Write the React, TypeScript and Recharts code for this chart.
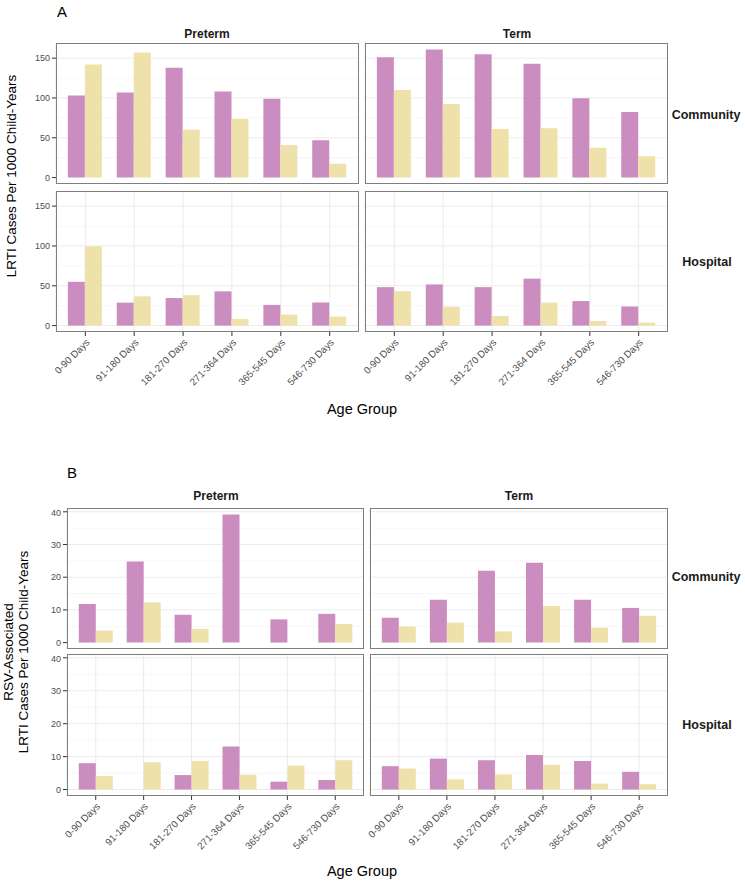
import React from "react";
import { BarChart, Bar, XAxis, YAxis, CartesianGrid } from "recharts";

const ageGroups = ["0-90 Days", "91-180 Days", "181-270 Days", "271-364 Days", "365-545 Days", "546-730 Days"];

// Panel A: all LRTI
const aCommunityPreterm1 = [103, 107, 138, 108, 99, 47];
const aCommunityPreterm2 = [142, 157, 60, 74, 41, 17.5];
const aCommunityTerm1 = [151, 161, 155, 143, 99.6, 82.5];
const aCommunityTerm2 = [110, 92.5, 61, 62, 37.5, 26.7];
const aHospitalPreterm1 = [55, 28.8, 34.6, 43, 26, 29];
const aHospitalPreterm2 = [99.6, 36.7, 38.3, 8.3, 13.8, 11.3];
const aHospitalTerm1 = [48.3, 51.7, 48.3, 59, 30.8, 24];
const aHospitalTerm2 = [43.3, 23.8, 12, 28.8, 5.8, 3.8];

// Panel B: RSV-associated LRTI
const bCommunityPreterm1 = [11.8, 24.8, 8.5, 39.2, 7.1, 8.8];
const bCommunityPreterm2 = [3.7, 12.3, 4.2, 0, 0, 5.7];
const bCommunityTerm1 = [7.6, 13.1, 22, 24.4, 13.1, 10.6];
const bCommunityTerm2 = [4.9, 6.1, 3.4, 11.2, 4.6, 8.2];
const bHospitalPreterm1 = [8.0, 0, 4.4, 13.1, 2.4, 2.9];
const bHospitalPreterm2 = [4.1, 8.3, 8.7, 4.5, 7.3, 8.9];
const bHospitalTerm1 = [7.1, 9.4, 8.9, 10.5, 8.7, 5.4];
const bHospitalTerm2 = [6.4, 3.1, 4.6, 7.5, 1.8, 1.6];

const aTicks = [0, 50, 100, 150];
const aMinor = [25, 75, 125];
const aDomain: [number, number] = [-8.05, 169.05];
const bTicks = [0, 10, 20, 30, 40];
const bMinor = [5, 15, 25, 35];
const bDomain: [number, number] = [-1.96, 41.16];

const PINK = "#CB8DC0";
const YELLOW = "#EEE1AA";
const FONT = "'Liberation Sans', Arial, Helvetica, sans-serif";

const build = (s1: number[], s2: number[]) =>
  ageGroups.map((age, i) => ({ age, s1: s1[i], s2: s2[i] }));

type PanelProps = {
  x: number; y: number; w: number; h: number;
  data: { age: string; s1: number; s2: number }[];
  domain: [number, number]; major: number[]; minor: number[];
  showY: boolean; showX: boolean;
};

function Panel({ x, y, w, h, data, domain, major, minor, showY, showX }: PanelProps) {
  const ext = 40;
  const yW = showY ? 34 : 0;
  const xH = showX ? 70 : 0;
  const pad = (w / 6.2) * 0.1;
  return (
    <>
      <div style={{ position: "absolute", left: x - ext, top: y }}>
        <BarChart
          width={w + ext}
          height={h + xH}
          data={data}
          margin={{ top: 0, right: 0, bottom: 0, left: ext - yW }}
          barGap={0}
          barSize={17}
        >
          <CartesianGrid vertical={false} horizontalValues={minor} stroke="#f3f3f3" strokeWidth={0.7} />
          <CartesianGrid horizontal={false} stroke="#ebebeb" />
          <CartesianGrid vertical={false} horizontalValues={major} stroke="#ebebeb" />
          <XAxis
            dataKey="age"
            type="category"
            interval={0}
            padding={{ left: pad, right: pad }}
            height={xH}
            axisLine={false}
            tickLine={showX ? { stroke: "#333" } : false}
            tickSize={4}
            tick={showX ? { fill: "#4d4d4d", fontSize: 9.8 } : false}
            angle={-45}
            textAnchor="end"
          />
          <YAxis
            type="number"
            domain={domain}
            allowDataOverflow
            ticks={major}
            width={yW}
            hide={!showY}
            axisLine={false}
            tickLine={{ stroke: "#333" }}
            tickSize={4}
            tick={{ fill: "#4d4d4d", fontSize: 9 }}
          />
          <Bar dataKey="s1" fill={PINK} isAnimationActive={false} />
          <Bar dataKey="s2" fill={YELLOW} isAnimationActive={false} />
        </BarChart>
      </div>
      <div
        style={{
          position: "absolute",
          left: x,
          top: y,
          width: w,
          height: h,
          border: "1px solid #7f7f7f",
          boxSizing: "border-box",
          pointerEvents: "none",
        }}
      />
    </>
  );
}

function Label({ x, y, text, size, bold, rotate }: { x: number; y: number; text: React.ReactNode; size: number; bold?: boolean; rotate?: boolean }) {
  return (
    <div
      style={{
        position: "absolute",
        left: x,
        top: y,
        transform: `translate(-50%, -50%)${rotate ? " rotate(-90deg)" : ""}`,
        fontSize: size,
        fontWeight: bold ? "bold" : "normal",
        whiteSpace: "nowrap",
        textAlign: "center",
        lineHeight: 1.1,
        color: bold ? "#1a1a1a" : "#000",
      }}
    >
      {text}
    </div>
  );
}

export default function App() {
  return (
    <div style={{ position: "absolute", left: 0, top: 0, width: 745, height: 884, background: "#fff", fontFamily: FONT }}>
      {/* Panel A */}
      <Label x={62} y={12} text="A" size={15} />
      <Label x={207} y={35} text="Preterm" size={12} bold />
      <Label x={517} y={35} text="Term" size={12} bold />
      <Panel x={56} y={43} w={303} h={141} data={build(aCommunityPreterm1, aCommunityPreterm2)} domain={aDomain} major={aTicks} minor={aMinor} showY showX={false} />
      <Panel x={365} y={43} w={303} h={141} data={build(aCommunityTerm1, aCommunityTerm2)} domain={aDomain} major={aTicks} minor={aMinor} showY={false} showX={false} />
      <Panel x={56} y={191} w={303} h={141} data={build(aHospitalPreterm1, aHospitalPreterm2)} domain={aDomain} major={aTicks} minor={aMinor} showY showX />
      <Panel x={365} y={191} w={303} h={141} data={build(aHospitalTerm1, aHospitalTerm2)} domain={aDomain} major={aTicks} minor={aMinor} showY={false} showX />
      <Label x={706} y={116} text="Community" size={12.5} bold />
      <Label x={707} y={263} text="Hospital" size={12.5} bold />
      <Label x={12} y={176} text="LRTI Cases Per 1000 Child-Years" size={13.5} rotate />
      <Label x={362} y={410} text="Age Group" size={14.5} />

      {/* Panel B */}
      <Label x={72} y={473} text="B" size={15} />
      <Label x={216} y={497} text="Preterm" size={12} bold />
      <Label x={519} y={497} text="Term" size={12} bold />
      <Panel x={67} y={508} w={297} h={141} data={build(bCommunityPreterm1, bCommunityPreterm2)} domain={bDomain} major={bTicks} minor={bMinor} showY showX={false} />
      <Panel x={370} y={508} w={298} h={141} data={build(bCommunityTerm1, bCommunityTerm2)} domain={bDomain} major={bTicks} minor={bMinor} showY={false} showX={false} />
      <Panel x={67} y={654} w={297} h={142} data={build(bHospitalPreterm1, bHospitalPreterm2)} domain={bDomain} major={bTicks} minor={bMinor} showY showX />
      <Panel x={370} y={654} w={298} h={142} data={build(bHospitalTerm1, bHospitalTerm2)} domain={bDomain} major={bTicks} minor={bMinor} showY={false} showX />
      <Label x={706} y={578} text="Community" size={12.5} bold />
      <Label x={707} y={726} text="Hospital" size={12.5} bold />
      <Label
        x={17}
        y={652}
        text={<>RSV-Associated<br />LRTI Cases Per 1000 Child-Years</>}
        size={13.5}
        rotate
      />
      <Label x={362} y={872} text="Age Group" size={14.5} />
    </div>
  );
}
